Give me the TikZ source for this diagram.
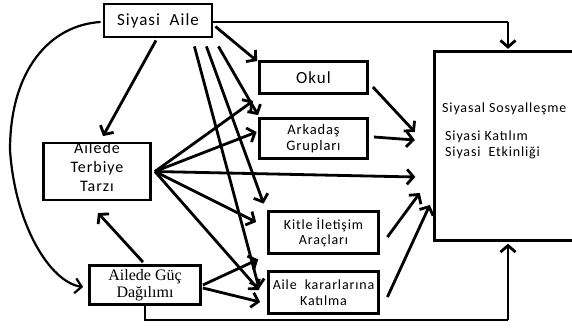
\documentclass[tikz,border=0pt]{standalone}
\usepackage{fontspec}
\setmainfont{Carlito}
\newfontfamily\spfont[LetterSpace=6]{Carlito}
\newfontfamily\timesf{Liberation Serif}
\usetikzlibrary{arrows.meta,calc}
\begin{document}
\begin{tikzpicture}[x=1pt,y=-1pt,
  box/.style={draw,line width=2.8pt,inner sep=0pt,align=center},
  arr/.style={line width=2.8pt,-{Straight Barb[length=6.5pt,width=15pt]}},
  ln/.style={line width=2.8pt},
  curvearr/.style={line width=2.2pt,-{Straight Barb[length=6.5pt,width=15pt]}}]
\useasboundingbox[fill=white] (0,0) rectangle (572,329);
% boxes
\node[box,minimum width=108pt,minimum height=33pt,font=\spfont\fontsize{17}{18}\selectfont] (siyasi) at (158,20.5) {Siyasi\ \ Aile};
\node[box,minimum width=108pt,minimum height=32pt,font=\spfont\fontsize{17}{18}\selectfont] (okul) at (313.5,77.5) {Okul};
\node[box,minimum width=108pt,minimum height=40pt,font=\spfont\fontsize{14.5}{15.5}\selectfont] (arkadas) at (313.5,138.5) {Arkadaş\\Grupları};
\node[draw,line width=2.8pt,inner sep=0pt,minimum width=107pt,minimum height=49pt,font=\spfont\fontsize{16}{19}\selectfont] (terbiye) at (97,171.5) {\raisebox{3pt}[\height][\depth]{\begin{tabular}{@{}c@{}}Ailede\\Terbiye\\Tarzı\end{tabular}}};
\node[box,minimum width=110pt,minimum height=42pt,font=\spfont\fontsize{14}{15.5}\selectfont] (kitle) at (323.5,232.5) {Kitle\ İletişim\\Araçları};
\node[box,minimum width=110pt,minimum height=42pt,font=\spfont\fontsize{14}{16}\selectfont] (karar) at (323.5,292.5) {Aile\ \ kararlarına\\Katılma};
\node[box,minimum width=111pt,minimum height=39pt,font=\timesf\fontsize{16}{17.5}\selectfont] (guc) at (145,285) {Ailede Güç\\Dağılımı};
\node[minimum width=138.5pt,minimum height=189pt,inner sep=0pt] (big) at (503.75,146) {};
\draw[ln] (big.north east) -- (big.north west) -- (big.south west) -- (big.south east);
\node[anchor=west,inner sep=0pt,font=\spfont\fontsize{14}{16}\selectfont] (bigtxt1) at (442,109) {Siyasal Sosyalleşme};
\node[anchor=west,inner sep=0pt,font=\spfont\fontsize{14}{16}\selectfont,align=left] (bigtxt2) at (445,145) {Siyasi Katılım\\Siyasi\ \ Etkinliği};
% coordinates
\coordinate (topc) at (508,22);
\coordinate (botc) at (508,320);
% Siyasi Aile connectors
\draw[ln] ($(siyasi.east)+(0,1.5)$) -- (topc);
\draw[arr] (topc) -- ($(topc |- big.north)+(0,-2.5)$);
\draw[arr] ($(siyasi.east)+(2,6)$) -- ($(okul.north west)+(-1,1)$);
\draw[arr] ($(siyasi.south east)+(5,8)$) -- ($(arkadas.north west)+(0,-2)$);
\draw[arr] ($(siyasi.south east)+(-7,8)$) -- ($(kitle.north west)+(-3.5,-6.5)$);
\draw[arr] ($(siyasi.south east)+(-19,8)$) -- ($(karar.west)+(-8,-4)$);
\draw[arr] ($(siyasi.south)+(-2,2)$) -- ($(terbiye.north)+(6,-5.5)$);
\draw[curvearr] ($(siyasi.west)+(-2,1.5)$) .. controls (50,25) and (10,70) .. (10,150) .. controls (15,225) and (50,282) .. ($(guc.west)+(-5,2)$);
% Guc connectors
\draw[arr] ($(guc.north)+(-2,-2)$) -- ($(terbiye.south)+(1,11.5)$);
\draw[arr] ($(guc.east)+(1,0)$) -- ($(kitle.south west)+(-9,4.5)$);
\draw[arr] ($(guc.east)+(1,3)$) -- ($(karar.west)+(-7,9.5)$);
\draw[ln] (guc.south) |- (botc);
\draw[arr] (botc) -- ($(botc |- big.south)+(0,3)$);
% Terbiye connectors
\draw[arr] ($(terbiye.east)+(3,0)$) -- ($(okul.south west)+(-5,6)$);
\draw[arr] ($(terbiye.east)+(3,0)$) -- ($(arkadas.west)+(-1.5,-6.5)$);
\draw[arr] ($(terbiye.east)+(3,0)$) -- ($(big.west)+(-19,31)$);
\draw[arr] ($(terbiye.east)+(3,0)$) -- ($(kitle.west)+(-11,-10.5)$);
\draw[arr] ($(terbiye.east)+(3,0)$) -- ($(karar.west)+(-8,-2.5)$);
% to big box
\draw[arr] ($(okul.east)+(4,9.5)$) -- ($(big.west)+(-19.5,-14)$);
\draw[arr] ($(arkadas.east)+(5,-1.5)$) -- ($(big.west)+(-19.5,-6)$);
\draw[arr] ($(kitle.east)+(7.5,4.5)$) -- ($(big.west)+(-14.5,47)$);
\draw[arr] ($(karar.east)+(7.5,4.5)$) -- ($(big.west)+(-4.5,59)$);
\end{tikzpicture}
\end{document}
